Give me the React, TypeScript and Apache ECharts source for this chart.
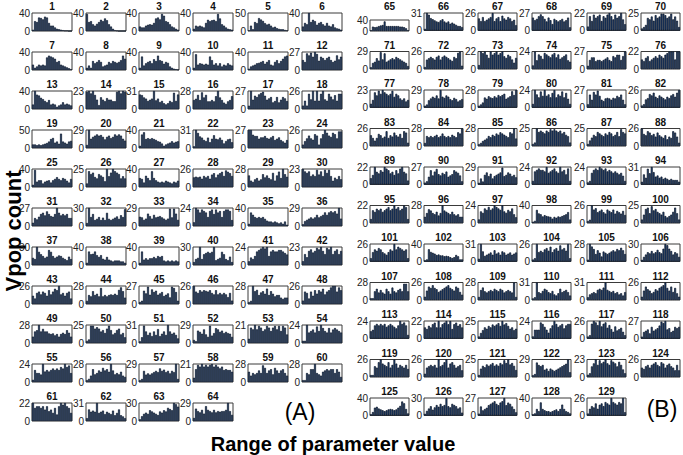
import React, { useEffect, useRef } from "react";
import * as echarts from "echarts";

// y-axis maxima for each panel (panels 1..64 in A, 65..129 in B)
const yMaxA = [
  40, 40, 40, 40, 50, 40,
  40, 40, 40, 40, 40, 27,
  40, 23, 31, 28, 27, 26,
  50, 29, 40, 31, 27, 26,
  40, 25, 40, 26, 28, 23,
  27, 30, 29, 24, 40, 29,
  30, 40, 40, 30, 24, 23,
  26, 28, 27, 26, 28, 26,
  28, 25, 31, 29, 21, 24,
  24, 28, 29, 21, 28, 28,
  22, 31, 30, 29,
];
const yMaxB = [
  40, 31, 26, 27, 22, 25,
  29, 26, 22, 24, 27, 22,
  23, 29, 28, 24, 27, 26,
  26, 28, 28, 25, 25, 26,
  22, 27, 29, 24, 24, 31,
  22, 28, 24, 40, 26, 25,
  26, 40, 31, 26, 28, 30,
  28, 26, 28, 31, 31, 26,
  24, 22, 25, 24, 26, 27,
  26, 26, 25, 29, 23, 26,
  40, 30, 27, 40, 26,
];

// Vpop counts per bin for each panel
const countsA = [
  [3,22,20,30,29,26,32,30,18,12,12,8,5,4,3,2,1,1,0,0],
  [38,20,22,15,12,16,20,25,22,28,24,15,10,5,2,1,0,0,0,0],
  [10,8,8,12,14,15,14,18,28,30,26,38,34,22,20,15,10,8,5,3],
  [5,12,10,12,10,8,18,25,22,24,25,22,38,28,15,12,8,5,4,3],
  [2,15,5,25,22,36,32,28,22,18,20,15,10,12,8,6,5,5,3,2],
  [10,18,15,40,20,25,22,14,18,20,15,12,18,12,10,15,8,6,5,3],
  [12,5,8,12,10,12,10,28,32,30,28,25,18,20,12,10,8,6,4,2],
  [5,10,5,20,15,18,22,18,8,10,12,18,15,20,18,16,18,22,32,25],
  [5,30,10,15,18,20,15,24,20,32,22,20,14,18,16,8,5,3,2,1],
  [5,35,12,15,14,12,14,12,30,22,12,15,10,15,8,12,10,15,12,10],
  [3,8,10,12,15,16,18,20,14,18,22,12,10,18,22,15,20,25,30,32],
  [15,12,25,22,26,20,27,24,14,20,18,15,18,20,15,12,14,22,16,20],
  [10,40,32,30,25,22,18,15,20,10,12,10,5,8,10,15,10,12,10,8],
  [22,23,20,23,18,12,5,15,12,10,14,12,12,10,10,22,23,20,23,22],
  [25,24,20,18,14,16,18,31,15,18,12,14,10,8,10,14,12,28,14,25],
  [14,16,22,14,26,18,22,12,12,14,12,20,28,18,14,10,8,12,14,20],
  [5,27,14,20,18,22,24,26,20,14,16,18,10,12,18,10,14,18,16,12],
  [5,12,5,22,14,26,12,26,12,22,26,14,12,22,18,14,20,12,22,22],
  [10,10,8,10,8,10,12,14,18,25,28,15,18,12,40,18,15,12,18,20],
  [5,29,15,18,20,22,20,21,18,14,18,20,16,18,22,20,22,20,15,12],
  [5,30,35,20,22,20,22,20,18,15,14,10,5,8,10,12,15,12,14,15],
  [3,31,26,20,18,14,12,18,10,16,22,16,15,18,14,8,12,15,16,10],
  [27,27,20,18,18,14,16,16,18,15,14,16,18,12,14,16,12,10,8,12],
  [5,10,14,18,14,12,20,18,5,14,20,26,22,18,16,22,20,14,24,24],
  [5,38,12,15,15,8,12,14,15,10,15,18,22,18,15,20,18,14,10,18],
  [5,22,18,20,14,12,18,16,14,8,25,15,20,25,22,20,18,12,15,12],
  [20,18,10,25,20,15,35,20,15,12,10,12,10,14,12,10,8,12,10,14],
  [14,15,14,15,12,16,14,16,12,18,20,14,18,20,22,16,24,22,20,16],
  [18,10,8,12,14,10,12,20,15,18,14,12,22,10,18,24,14,28,20,16],
  [23,20,18,20,14,16,14,22,16,20,14,22,18,22,14,8,12,10,14,10],
  [5,12,10,14,18,20,16,22,18,15,14,18,27,20,16,18,16,18,12,12],
  [5,30,15,20,10,12,15,10,14,10,22,12,10,12,14,16,12,18,15,28],
  [15,14,10,12,20,16,12,18,14,15,16,14,12,10,12,28,14,28,20,10],
  [5,24,22,18,22,20,18,12,20,22,16,22,18,20,12,20,22,22,20,8],
  [5,30,25,20,18,20,18,20,16,12,10,10,8,10,8,6,8,5,10,3],
  [3,8,10,12,14,12,14,18,14,16,18,22,18,22,24,22,24,20,29,12],
  [12,10,30,22,18,15,12,14,25,22,15,12,14,16,15,12,10,8,14,10],
  [5,30,24,25,30,22,18,22,14,12,18,12,10,8,10,10,10,8,8,5],
  [5,30,12,15,12,15,15,18,15,20,18,20,10,8,10,8,10,8,10,8],
  [5,10,12,30,10,18,20,22,20,22,30,8,10,12,22,18,10,8,14,5],
  [5,10,8,12,18,20,22,24,22,24,12,18,20,18,18,20,20,18,16,14],
  [5,14,10,18,20,16,18,22,20,23,18,14,22,20,23,14,18,20,14,18],
  [12,8,16,18,14,18,16,12,20,14,18,22,20,26,14,16,12,16,18,8],
  [5,14,12,20,14,16,12,25,12,14,12,14,15,14,16,14,22,26,20,10],
  [3,5,20,16,26,14,22,18,20,14,16,18,12,14,16,10,26,24,18,5],
  [26,18,16,20,18,20,19,18,20,16,14,20,14,16,14,16,14,10,16,5],
  [3,5,28,20,22,14,18,20,16,24,14,20,16,12,14,14,10,8,10,10],
  [5,18,16,8,18,12,20,15,20,18,22,14,18,20,24,26,26,18,24,20],
  [10,18,20,28,18,22,18,18,15,14,15,12,14,10,14,16,14,20,16,10],
  [3,5,24,24,20,22,20,16,18,14,20,24,18,12,14,18,20,12,14,8],
  [3,10,30,20,14,18,12,20,14,24,12,16,20,14,31,20,16,18,14,8],
  [5,3,20,18,15,22,14,10,28,12,16,24,22,18,20,16,18,16,15,10],
  [5,18,16,21,16,20,18,14,16,20,18,14,18,20,16,20,14,20,18,10],
  [3,3,24,14,16,18,14,22,16,24,20,16,14,20,14,18,20,18,16,14],
  [3,16,12,12,10,24,14,16,14,16,18,16,18,16,20,18,24,20,22,12],
  [3,5,10,20,12,14,18,16,22,18,20,16,28,18,12,14,12,16,10,8],
  [3,5,18,12,14,12,14,16,18,16,22,18,20,16,18,14,18,16,29,5],
  [5,15,20,18,21,18,20,18,20,21,18,20,18,16,18,14,15,14,14,12],
  [16,10,14,12,14,18,14,26,22,14,18,20,12,22,18,14,18,20,14,10],
  [3,3,14,12,20,20,28,14,12,10,16,18,20,18,20,20,14,20,16,8],
  [22,16,18,18,16,18,14,18,12,14,10,16,8,18,22,20,22,18,16,10],
  [5,20,16,18,16,31,14,16,18,12,16,14,12,18,10,14,20,10,8,5],
  [3,8,12,14,12,18,16,14,12,10,16,14,18,16,22,20,18,30,28,24],
  [5,20,16,14,18,12,24,18,16,14,18,14,16,15,16,16,18,29,16,10],
];
const countsB = [
  [3,16,14,15,18,20,22,35,18,18,18,18,18,18,18,16,16,14,10,3],
  [3,31,28,22,20,18,16,15,18,20,16,14,16,12,14,12,10,8,8,6],
  [18,14,20,14,16,18,20,26,14,18,20,14,22,18,16,20,18,14,16,8],
  [20,16,18,22,25,22,18,14,20,16,10,18,16,14,16,18,14,16,20,5],
  [5,18,12,20,16,18,20,12,18,16,20,22,18,14,20,16,18,22,14,8],
  [3,5,8,18,16,20,14,22,18,20,24,24,22,18,20,24,16,20,14,5],
  [3,10,12,18,14,28,16,26,12,14,16,18,16,20,18,16,14,12,10,5],
  [3,14,16,18,16,14,18,20,14,18,20,18,16,14,12,18,16,24,26,5],
  [5,22,20,22,18,14,22,18,20,22,18,20,22,16,14,18,16,12,8,14],
  [5,24,12,20,18,14,22,20,18,16,20,22,16,20,14,16,18,20,12,10],
  [5,14,18,18,12,14,14,12,14,16,18,14,12,20,18,22,22,14,20,27],
  [12,10,14,16,10,12,14,16,14,18,16,14,18,20,22,22,22,12,22,22],
  [5,10,20,16,22,18,23,20,18,16,18,22,14,18,16,12,10,12,8,10],
  [3,5,12,15,18,16,20,15,29,18,16,20,18,14,12,16,14,10,12,14],
  [3,5,8,16,14,18,16,15,18,16,20,18,20,22,14,16,18,26,20,28],
  [5,24,18,14,22,16,24,16,18,14,20,24,14,18,16,22,14,20,12,5],
  [5,20,12,24,20,26,18,12,10,14,15,14,12,15,14,18,16,20,12,5],
  [3,5,12,14,20,18,22,16,14,18,16,14,12,16,14,18,20,16,22,26],
  [16,12,8,12,18,16,12,14,22,12,16,14,20,16,14,18,12,22,20,5],
  [5,16,14,16,14,16,18,14,16,20,16,14,16,14,18,16,14,22,20,28],
  [3,5,8,10,12,16,14,18,16,20,18,22,20,18,16,14,22,20,28,12],
  [3,5,25,20,22,20,18,22,20,24,22,24,22,20,22,18,20,16,14,5],
  [3,8,12,16,14,20,18,16,14,18,16,20,18,14,16,20,14,24,20,18],
  [26,18,16,22,20,16,18,14,20,16,14,12,16,10,14,12,22,20,14,5],
  [8,12,22,16,14,18,16,22,20,18,14,16,12,18,14,20,22,16,14,5],
  [3,5,12,22,14,20,24,16,14,18,16,20,12,14,16,22,20,18,14,5],
  [3,10,5,16,20,14,18,10,14,16,18,20,28,14,16,20,18,14,16,12],
  [5,18,20,22,20,20,18,24,16,18,20,22,18,16,24,18,20,14,22,5],
  [3,5,16,20,22,20,24,22,20,22,18,20,18,16,18,16,14,16,12,5],
  [5,18,12,28,20,31,22,14,16,12,14,10,12,10,8,10,8,8,8,5],
  [5,16,14,18,16,18,14,16,18,20,16,18,22,18,20,16,18,22,20,5],
  [10,16,22,20,16,14,18,12,16,28,20,18,16,14,18,14,12,14,10,10],
  [5,16,14,20,18,22,18,20,24,22,20,18,24,16,14,18,16,20,12,8],
  [3,5,30,22,20,15,18,16,15,14,10,14,12,15,14,16,18,20,25,8],
  [3,5,26,20,22,16,18,20,16,14,20,18,16,20,14,18,16,14,18,12],
  [5,12,20,22,14,24,18,20,16,14,12,16,10,8,10,12,16,22,14,5],
  [5,14,18,16,20,18,14,12,10,14,18,16,26,18,22,20,18,16,18,5],
  [3,5,28,22,20,18,15,16,14,14,12,13,12,10,8,10,15,12,5,5],
  [5,31,18,10,12,14,16,12,20,14,16,12,18,16,12,14,16,12,14,16],
  [3,5,26,14,16,14,18,20,16,22,14,18,20,16,24,18,20,16,26,5],
  [3,28,24,20,12,18,14,8,16,14,12,14,16,18,16,20,18,22,18,12],
  [3,8,12,16,14,18,14,16,20,16,14,22,30,28,22,18,12,16,14,8],
  [3,3,14,18,12,16,12,10,18,14,10,20,14,12,16,18,14,26,26,14],
  [5,14,20,18,22,18,16,12,14,16,18,20,22,18,16,14,20,18,12,8],
  [5,16,20,14,12,14,16,14,18,16,14,18,16,12,14,16,14,12,28,5],
  [3,5,31,14,12,16,20,18,14,12,16,10,8,12,20,14,16,18,14,8],
  [5,10,12,14,12,18,20,18,22,31,18,16,14,16,12,14,10,12,8,14],
  [5,14,20,16,14,10,12,16,14,18,20,22,26,18,14,20,12,18,10,5],
  [10,12,18,20,18,20,18,20,16,18,20,18,16,14,18,24,20,22,18,5],
  [14,12,16,14,18,20,14,22,14,18,20,22,18,22,12,18,20,16,18,14],
  [3,8,12,16,14,18,16,20,18,20,22,18,25,20,22,18,14,16,12,14],
  [3,12,12,12,22,20,16,12,8,14,18,24,20,16,18,20,14,18,20,20],
  [3,5,22,26,24,20,26,18,22,24,16,20,14,10,18,12,14,16,10,5],
  [3,10,12,14,8,18,12,14,16,20,26,24,27,14,16,10,12,18,16,18],
  [3,3,16,14,22,26,20,18,16,22,14,18,26,20,14,18,16,14,18,12],
  [5,14,16,18,16,18,14,26,16,18,22,26,14,20,22,18,14,16,18,10],
  [3,12,16,14,18,16,18,20,16,18,16,20,18,24,20,25,18,20,16,10],
  [3,5,24,20,18,20,12,14,10,14,12,10,12,14,16,18,20,22,29,8],
  [3,5,14,18,23,16,22,18,20,23,18,16,22,20,18,14,20,16,10,5],
  [14,12,16,18,14,18,20,22,18,16,22,20,14,18,20,16,14,10,18,10],
  [3,8,18,20,16,14,12,10,12,14,15,14,12,14,18,22,32,28,15,5],
  [3,8,12,16,10,14,18,15,20,16,18,30,16,14,20,18,16,12,14,5],
  [3,14,8,10,12,16,18,20,22,18,16,20,22,27,16,20,18,14,10,5],
  [3,5,15,10,30,15,12,10,10,8,10,12,14,10,15,25,15,10,8,5],
  [3,10,14,12,18,10,16,18,14,20,18,16,26,20,18,16,20,18,26,5],
];

const xLabel = "Range of parameter value";
const yLabel = "Vpop count";
const panelLabels = ["(A)", "(B)"];

const FONT = '"Liberation Sans", Arial, Helvetica, sans-serif';

function buildOption() {
  const grid: any[] = [];
  const xAxis: any[] = [];
  const yAxis: any[] = [];
  const series: any[] = [];
  const graphic: any[] = [];

  const addPanel = (num: number, left: number, top: number, w: number, h: number, ymax: number, vals: number[]) => {
    const i = grid.length;
    grid.push({
      left, top, width: w, height: h,
      show: true, borderColor: "#3a3a3a", borderWidth: 1, backgroundColor: "transparent",
      containLabel: false,
    });
    xAxis.push({
      gridIndex: i, type: "category", data: vals.map((_, k) => k + 1),
      axisLine: { show: false }, axisTick: { show: false }, axisLabel: { show: false },
      splitLine: { show: false },
    });
    yAxis.push({
      gridIndex: i, type: "value", min: 0, max: ymax, interval: ymax,
      axisLine: { show: false }, axisTick: { show: false }, splitLine: { show: false },
      axisLabel: { fontSize: 10, color: "#222", margin: 2, fontFamily: FONT },
    });
    series.push({
      type: "bar", xAxisIndex: i, yAxisIndex: i, data: vals,
      barCategoryGap: "0%", barGap: "0%",
      itemStyle: { color: "#21447a", borderColor: "#0a1424", borderWidth: 0.7 },
      silent: true,
    });
    graphic.push({
      type: "text", x: left + w / 2, y: top - 6.5,
      style: {
        text: String(num), font: `bold 10px ${FONT}`, fill: "#111",
        align: "center", verticalAlign: "middle", textAlign: "center", textVerticalAlign: "middle",
      },
    });
  };

  const colA = [32, 86, 139, 193, 248, 302];
  yMaxA.forEach((m, k) => {
    const r = Math.floor(k / 6), c = k % 6;
    addPanel(k + 1, colA[c], 13 + 39 * r, 40, 18, m, countsA[k]);
  });
  const colB = [370, 424, 478, 532, 587, 641];
  yMaxB.forEach((m, k) => {
    const r = Math.floor(k / 6), c = k % 6;
    const top = 13 + 38.5 * r;
    if (k === 0) {
      addPanel(65, colB[c], top + 7, 39, 11, m, countsB[k]);
      graphic[graphic.length - 1].y = top - 6.5;
    } else {
      addPanel(65 + k, colB[c], top, 39, 17.5, m, countsB[k]);
    }
  });

  graphic.push({
    type: "text", x: 13, y: 231, rotation: Math.PI / 2,
    style: {
      text: yLabel, font: `bold 22px ${FONT}`, fill: "#000",
      align: "center", verticalAlign: "middle", textAlign: "center", textVerticalAlign: "middle",
    },
  });
  graphic.push({
    type: "text", x: 333, y: 444,
    style: {
      text: xLabel, font: `bold 20px ${FONT}`, fill: "#000",
      align: "center", verticalAlign: "middle", textAlign: "center", textVerticalAlign: "middle",
    },
  });
  graphic.push({
    type: "text", x: 300, y: 412,
    style: {
      text: panelLabels[0], font: `23px ${FONT}`, fill: "#000",
      align: "center", verticalAlign: "middle", textAlign: "center", textVerticalAlign: "middle",
    },
  });
  graphic.push({
    type: "text", x: 662, y: 409,
    style: {
      text: panelLabels[1], font: `23px ${FONT}`, fill: "#000",
      align: "center", verticalAlign: "middle", textAlign: "center", textVerticalAlign: "middle",
    },
  });

  return {
    animation: false,
    backgroundColor: "#ffffff",
    textStyle: { fontFamily: FONT },
    grid, xAxis, yAxis, series, graphic,
  };
}

export default function App() {
  const ref = useRef<HTMLDivElement>(null);
  useEffect(() => {
    if (!ref.current) return;
    const chart = echarts.init(ref.current, undefined, { renderer: "svg" });
    chart.setOption(buildOption() as any);
    return () => chart.dispose();
  }, []);
  return (
    <div
      ref={ref}
      style={{ position: "fixed", left: 0, top: 0, width: 683, height: 455, background: "#fff" }}
    />
  );
}
